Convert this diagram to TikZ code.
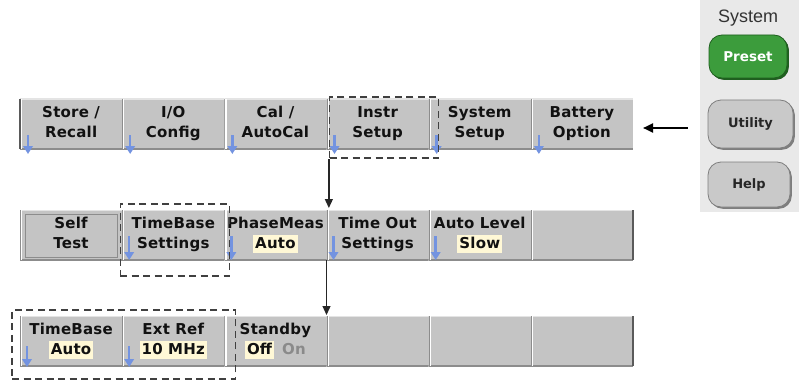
\documentclass[tikz,border=0pt]{standalone}
\usepackage{fontspec}
\setmainfont{DejaVu Sans}
\newfontfamily\keyfont[LetterSpace=1.5]{DejaVu Sans}
\newfontfamily\panelfont{Liberation Sans}
\usetikzlibrary{calc,positioning,fit,arrows.meta,shadows}

\definecolor{keygray}{HTML}{C4C4C4}
\definecolor{keyhi}{HTML}{E4E4E4}
\definecolor{keylo}{HTML}{8C8C8C}
\definecolor{keyend}{HTML}{5A5A5A}
\definecolor{keytext}{HTML}{111111}
\definecolor{valyellow}{HTML}{FFF8D6}
\definecolor{subblue}{HTML}{7393E0}
\definecolor{ongray}{HTML}{8A8A8A}
\definecolor{panelbg}{HTML}{E9E9E9}
\definecolor{presetgreen}{HTML}{3C9C3C}
\definecolor{presetdark}{HTML}{1F5F1F}
\definecolor{btngray}{HTML}{C9C9C9}
\definecolor{btnedge}{HTML}{7E7E7E}

\def\keyline{\rule[-6pt]{0pt}{18pt}}
\newcommand\kl[2]{\keyline#1\\\keyline#2}
\newcommand\valbox[1]{{\setlength{\fboxsep}{2pt}\colorbox{valyellow}{\vphantom{Ag}#1}}}

\tikzset{
	softkey/.style={fill=keygray, minimum width=102.17pt, minimum height=50pt, inner sep=0pt, outer sep=0pt,
		anchor=north west, align=center, text=keytext,
		font={\keyfont\bfseries\fontsize{15pt}{20pt}\selectfont},
		path picture={
			\draw[keyhi, line width=2.4pt] (path picture bounding box.north west) -- (path picture bounding box.north east);
			\draw[keylo, line width=3pt] (path picture bounding box.south west) -- (path picture bounding box.south east);
			\draw[keylo, line width=1pt] ([xshift=0.5pt]path picture bounding box.north west) -- ([xshift=0.5pt]path picture bounding box.south west);
			\draw[white, line width=1.2pt] ([xshift=1.6pt]path picture bounding box.north west) -- ([xshift=1.6pt]path picture bounding box.south west);
		}},
	rowend/.style={keyend, line width=1.6pt},
	selfbtn/.style={draw=black!45, line width=1pt},
	subarrow/.style={draw=subblue, line width=2.6pt, -{Triangle[width=9.5pt,length=8pt]}},
	selbox/.style={draw=black!75, line width=1.3pt, dash pattern=on 7pt off 4.5pt, inner sep=0pt},
	flowarrow/.style={draw=black!85, line width=1.3pt, -{Triangle[width=8pt,length=9pt]}},
	backarrow/.style={draw=black, line width=2.2pt, -{Triangle[width=9pt,length=10pt]}},
	panelbtn/.style={rounded corners=13pt, draw=btnedge, fill=btngray, line width=0.8pt,
		general shadow={fill=btnedge, shadow xshift=1.8pt, shadow yshift=-1.8pt},
		font={\bfseries\fontsize{13pt}{14pt}\selectfont}, text=black!85},
}

\begin{document}
\begin{tikzpicture}[x=1pt, y=-1pt]
			%%%%% START %%%%%
			\useasboundingbox (0,0) rectangle (799,385);
			
			% front panel keys
			\fill[panelbg] (700,0) rectangle (799,212);
			\node[anchor=base, text=black!80, font={\panelfont\fontsize{18pt}{20pt}\selectfont}] (systitle) at (748,23) {System};
			\node[panelbtn, fill=presetgreen, draw=presetdark, text=white, general shadow={fill=presetdark, shadow xshift=1.8pt, shadow yshift=-1.8pt},
				minimum width=78pt, minimum height=43pt, font={\bfseries\fontsize{13.5pt}{14pt}\selectfont}] (preset) at (748,56.5) {Preset};
			\node[panelbtn, minimum width=85pt, minimum height=48pt] (utility) at (750.5,124) {Utility};
			\node[panelbtn, minimum width=82pt, minimum height=45pt] (help) at (749,184.5) {Help};
			
			% top softkey row
			\node[softkey] (store) at (20,99) {\kl{Store /}{Recall}};
			\node[softkey, right=0pt of store] (ioconf) {\kl{I/O}{Config}};
			\node[softkey, right=0pt of ioconf] (calib) {\kl{Cal /}{AutoCal}};
			\node[softkey, right=0pt of calib] (instr) {\kl{Instr}{Setup}};
			\node[softkey, right=0pt of instr] (syssetup) {\kl{System}{Setup}};
			\node[softkey, right=0pt of syssetup] (battery) {\kl{Battery}{Option}};
			\draw[rowend] (store.north west) -- (store.south west);
			
			% Instr Setup menu
			\node[softkey] (selftest) at (20,210) {\kl{Self}{Test}};
			\node[softkey, right=0pt of selftest] (timebase) {\kl{TimeBase}{Settings}};
			\node[softkey, right=0pt of timebase] (phase) {\kl{PhaseMeas}{\valbox{Auto}}};
			\node[softkey, right=0pt of phase] (timeout) {\kl{Time Out}{Settings}};
			\node[softkey, right=0pt of timeout] (autolevel) {\kl{Auto Level}{\valbox{Slow}}};
			\node[softkey, right=0pt of autolevel] (blanktwo) {};
			\draw[selfbtn] ($(selftest.north west)+(5,4)$) rectangle ($(selftest.south east)+(-5,-3)$);
			\draw[rowend] (blanktwo.north east) -- (blanktwo.south east);
			
			% TimeBase Settings menu
			\node[softkey] (tbase) at (20,316) {\kl{TimeBase}{\valbox{Auto}}};
			\node[softkey, right=0pt of tbase] (extref) {\kl{Ext Ref}{\valbox{10 MHz}}};
			\node[softkey, right=0pt of extref] (standby) {\kl{Standby}{\valbox{Off}\hspace{8pt}\textcolor{ongray}{On}}};
			\node[softkey, right=0pt of standby] (blankthree) {};
			\node[softkey, right=0pt of blankthree] (blankfour) {};
			\node[softkey, right=0pt of blankfour] (blankfive) {};
			\draw[rowend] (blankfive.north east) -- (blankfive.south east);
			
			% submenu marks
			\draw[subarrow] ($(store.south west)+(8,-14)$) -- ++(0,19);
			\draw[subarrow] ($(ioconf.south west)+(8,-14)$) -- ++(0,19);
			\draw[subarrow] ($(calib.south west)+(8,-14)$) -- ++(0,19);
			\draw[subarrow] ($(instr.south west)+(8,-14)$) -- ++(0,19);
			\draw[subarrow] ($(syssetup.south west)+(8,-14)$) -- ++(0,19);
			\draw[subarrow] ($(battery.south west)+(8,-14)$) -- ++(0,19);
			\draw[subarrow] ($(timebase.south west)+(7,-24)$) -- ++(0,24);
			\draw[subarrow] ($(phase.south west)+(7,-24)$) -- ++(0,24);
			\draw[subarrow] ($(timeout.south west)+(7,-24)$) -- ++(0,24);
			\draw[subarrow] ($(autolevel.south west)+(7,-24)$) -- ++(0,24);
			\draw[subarrow] ($(tbase.south west)+(7,-20)$) -- ++(0,21);
			\draw[subarrow] ($(extref.south west)+(7,-20)$) -- ++(0,21);
			
			% selections
			\node[selbox, fit={($(instr.north west)+(3,-2)$) ($(instr.south east)+(10,9)$)}] (instrsel) {};
			\node[selbox, fit={($(timebase.north west)+(-2,-6)$) ($(timebase.south east)+(5,16)$)}] (timebasesel) {};
			\node[selbox, fit={($(tbase.north west)+(-8,-6)$) ($(extref.south east)+(11,13)$)}] (refsel) {};
			
			\draw[flowarrow, shorten >=2pt] (instrsel.south west) -- (instrsel.south west |- timeout.north);
			\draw[flowarrow, shorten >=1pt] (timeout.south west) -- (blankthree.north west);
			\draw[backarrow] ($(battery.east -| utility.west)+(-20,4)$) -- ($(battery.east)+(10,4)$);
			
			%%%%% END %%%%%
		\end{tikzpicture}
\end{document}
